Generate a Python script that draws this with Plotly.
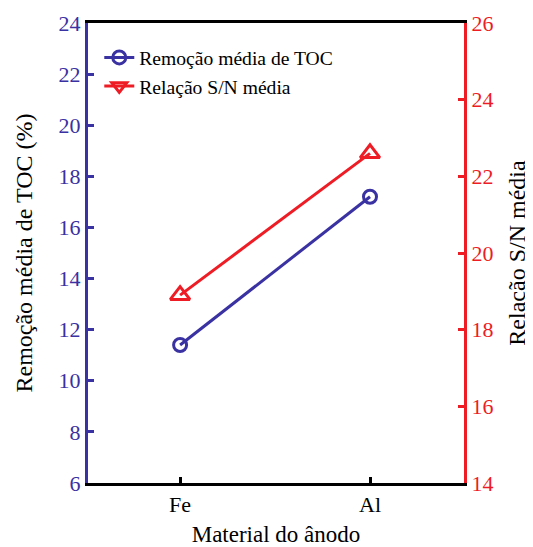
import plotly.graph_objects as go

categories = ["Fe", "Al"]
toc_removal = [11.4, 17.2]
sn_ratio = [18.9, 22.6]

left_ticks = [6, 8, 10, 12, 14, 16, 18, 20, 22, 24]
right_ticks = [14, 16, 18, 20, 22, 24, 26]

BLUE = "#3a31a2"
RED = "#ee1c25"
FONT = "'Liberation Serif', 'Times New Roman', 'DejaVu Serif', serif"

fig = go.Figure()
fig.add_trace(go.Scatter(
    x=categories, y=toc_removal, name="Remoção média de TOC",
    mode="lines+markers",
    line=dict(color=BLUE, width=3),
    marker=dict(symbol="circle-open", size=13, line=dict(width=3, color=BLUE), color=BLUE),
    yaxis="y",
))
fig.add_trace(go.Scatter(
    x=categories, y=sn_ratio, name="Relação S/N média",
    mode="lines+markers",
    line=dict(color=RED, width=3),
    marker=dict(symbol="triangle-up-open", size=17, line=dict(width=3, color=RED), color=RED),
    yaxis="y2", showlegend=False,
))
# legend entry (reference legend shows a downward triangle)
fig.add_trace(go.Scatter(
    x=[None], y=[None], name="Relação S/N média",
    mode="lines+markers",
    line=dict(color=RED, width=3),
    marker=dict(symbol="triangle-down-open", size=13, line=dict(width=3, color=RED), color=RED),
    yaxis="y2",
))

# page body has an 8px default margin, so the figure is sized to fit the window
fig.update_layout(
    width=525, height=539,
    margin=dict(l=80, r=69, t=15, b=64, autoexpand=False),
    paper_bgcolor="white", plot_bgcolor="white",
    font=dict(family=FONT, color="black", size=22),
    showlegend=True,
    legend=dict(x=0.03, y=0.967, xanchor="left", yanchor="top",
                bgcolor="rgba(0,0,0,0)", font=dict(size=19.6, family=FONT),
                tracegroupgap=0, itemwidth=30),
    xaxis=dict(
        type="category", range=[-0.485, 1.495], automargin=False,
        showline=True, linecolor="black", linewidth=3, mirror=True,
        ticks="inside", ticklen=6, tickwidth=3, tickcolor="black",
        showgrid=False, zeroline=False,
        tickfont=dict(size=22, family=FONT, color="black"),
        title=dict(text="Material do ânodo", font=dict(size=23, family=FONT), standoff=10),
    ),
    yaxis=dict(
        range=[6, 24], tickvals=left_ticks, automargin=False,
        showline=True, linecolor=BLUE, linewidth=3,
        ticks="inside", ticklen=6, tickwidth=3, tickcolor=BLUE,
        showgrid=False, zeroline=False,
        tickfont=dict(size=22, family=FONT, color=BLUE),
        title=dict(text="Remoção média de TOC (%)", font=dict(size=24, family=FONT, color="black"), standoff=20),
    ),
    yaxis2=dict(
        range=[14, 26], tickvals=right_ticks, automargin=False,
        overlaying="y", side="right",
        showline=True, linecolor=RED, linewidth=3,
        ticks="inside", ticklen=6, tickwidth=3, tickcolor=RED,
        showgrid=False, zeroline=False,
        tickfont=dict(size=22, family=FONT, color=RED),
        title=dict(text="Relação S/N média", font=dict(size=24, family=FONT, color="black"), standoff=16),
    ),
)

fig.write_html("out.html")
